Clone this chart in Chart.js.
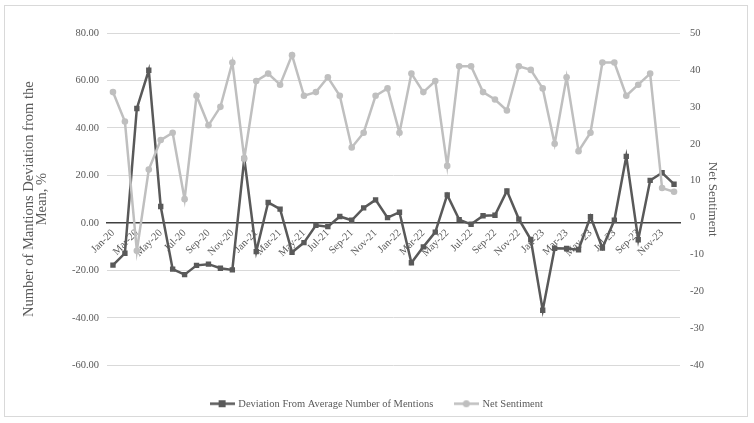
<!DOCTYPE html>
<html lang="en">
<head>
  <meta charset="UTF-8" />
  <title>Mentions Deviation and Net Sentiment</title>
  <script src="https://cdn.jsdelivr.net/npm/chart.js"></script>
  <style>
    body { margin: 0; background: #fff; }
    #wrap { position: relative; width: 754px; height: 423px; }
    #frame { position: absolute; left: 4px; top: 5px; width: 744px; height: 412px; border: 1px solid #d9d9d9; box-sizing: border-box; }
    #chart { position: absolute; left: 0; top: 0; }
  </style>
</head>
<body>
  <div id="wrap">
    <div id="frame"></div>
    <canvas id="chart" width="754" height="423"></canvas>
  </div>

<script>
  // --- Data ---
  const months = [
    "Jan-20", "Feb-20", "Mar-20", "Apr-20", "May-20", "Jun-20", "Jul-20", "Aug-20", "Sep-20", "Oct-20", "Nov-20", "Dec-20",
    "Jan-21", "Feb-21", "Mar-21", "Apr-21", "May-21", "Jun-21", "Jul-21", "Aug-21", "Sep-21", "Oct-21", "Nov-21", "Dec-21",
    "Jan-22", "Feb-22", "Mar-22", "Apr-22", "May-22", "Jun-22", "Jul-22", "Aug-22", "Sep-22", "Oct-22", "Nov-22", "Dec-22",
    "Jan-23", "Feb-23", "Mar-23", "Apr-23", "May-23", "Jun-23", "Jul-23", "Aug-23", "Sep-23", "Oct-23", "Nov-23", "Dec-23"
  ];

  // Deviation from average number of mentions, % (left axis)
  const deviation = [
    -17.8, -12.8, 48.2, 64.3, 6.9, -19.5, -21.8, -17.9, -17.4, -19.1, -19.8, 27.1,
    -12.1, 8.6, 5.8, -12.4, -8.3, -1.0, -1.6, 2.7, 1.1, 6.3, 9.7, 2.2,
    4.5, -16.8, -10.1, -3.9, 11.8, 1.4, -0.6, 3.0, 3.2, 13.5, 1.6, -7.0,
    -36.8, -10.7, -10.8, -11.3, 2.6, -10.6, 1.1, 28.0, -7.1, 17.9, 21.1, 16.3
  ];

  // Net sentiment (right axis)
  const sentiment = [
    34, 26, -9, 13, 21, 23, 5, 33, 25, 30, 42, 16,
    37, 39, 36, 44, 33, 34, 38, 33, 19, 23, 33, 35,
    23, 39, 34, 37, 14, 41, 41, 34, 32, 29, 41, 40,
    35, 20, 38, 18, 23, 42, 42, 33, 36, 39, 8, 7
  ];

  const seriesNames = ["Deviation From Average Number of Mentions", "Net Sentiment"];
  const leftTitle = ["Number of Mantions Deviation from the", "Mean, %"];
  const rightTitle = "Net Sentiment";

  // --- Styling ---
  const DARK = "#595959";
  const LIGHT = "#bfbfbf";
  const TEXT = "#595959";
  const GRID = "#d9d9d9";
  const FONT = "'Liberation Serif', 'Times New Roman', serif";

  // legend swatch: short line with the marker in the middle
  function legendSwatch(color, shape) {
    const c = document.createElement("canvas");
    c.width = 25; c.height = 9;
    const g = c.getContext("2d");
    g.strokeStyle = color;
    g.lineWidth = 2.5;
    g.beginPath(); g.moveTo(0, 4.5); g.lineTo(25, 4.5); g.stroke();
    g.fillStyle = color;
    if (shape === "rect") {
      g.fillRect(9, 1, 7, 7);
    } else {
      g.beginPath(); g.arc(12.5, 4.5, 3.5, 0, Math.PI * 2); g.fill();
    }
    return c;
  }
  const swatches = [legendSwatch(DARK, "rect"), legendSwatch(LIGHT, "circle")];

  const ctx = document.getElementById("chart").getContext("2d");

  new Chart(ctx, {
    type: "line",
    data: {
      labels: months,
      datasets: [
        {
          label: seriesNames[0],
          data: deviation,
          yAxisID: "y",
          borderColor: DARK,
          backgroundColor: DARK,
          borderWidth: 2.5,
          pointStyle: "rect",
          pointRadius: 3.8,
          pointBorderWidth: 0,
          tension: 0,
          order: 2
        },
        {
          label: seriesNames[1],
          data: sentiment,
          yAxisID: "y1",
          borderColor: LIGHT,
          backgroundColor: LIGHT,
          borderWidth: 2.5,
          pointStyle: "circle",
          pointRadius: 3.3,
          pointBorderWidth: 0,
          tension: 0,
          order: 1
        }
      ]
    },
    options: {
      responsive: false,
      animation: false,
      layout: { padding: { top: 33, bottom: 4, left: 0, right: 0 } },
      plugins: {
        tooltip: { enabled: false },
        legend: {
          position: "bottom",
          // empty title only used as spacer above the legend row
          title: { display: true, text: " ", font: { size: 1 }, padding: { top: 10, bottom: 0 } },
          labels: {
            usePointStyle: true,
            pointStyleWidth: 22,
            padding: 22,
            color: TEXT,
            font: { family: FONT, size: 10.5 },
            generateLabels: chart => chart.data.datasets.map((ds, i) => ({
              text: ds.label,
              pointStyle: swatches[i],
              fontColor: TEXT,
              hidden: false,
              lineWidth: 0,
              datasetIndex: i
            }))
          }
        }
      },
      scales: {
        x: {
          type: "category",
          position: { y: 0 },
          offset: true,
          grid: { display: false, drawTicks: false },
          border: { display: true, color: "#404040", width: 1.5 },
          ticks: {
            autoSkip: false,
            maxRotation: 45,
            minRotation: 45,
            padding: 4,
            color: TEXT,
            font: { family: FONT, size: 10.5 },
            callback: function (value, index) {
              return index % 2 === 0 ? this.getLabelForValue(value) : "";
            }
          }
        },
        y: {
          position: "left",
          min: -60,
          max: 80,
          afterFit: s => { s.width = 107; },
          grid: {
            drawTicks: false,
            color: c => (c.tick && c.tick.value === 0 ? "rgba(0,0,0,0)" : GRID),
            lineWidth: 1
          },
          border: { display: false },
          ticks: {
            stepSize: 20,
            padding: 8,
            color: TEXT,
            font: { family: FONT, size: 10.5 },
            callback: v => v.toFixed(2)
          },
          title: {
            display: true,
            text: leftTitle,
            color: TEXT,
            font: { family: FONT, size: 14.5, lineHeight: "13px" },
            padding: { top: 22.5, bottom: 0 }
          }
        },
        y1: {
          position: "right",
          min: -40,
          max: 50,
          afterFit: s => { s.width = 74; },
          grid: { display: false, drawTicks: false },
          border: { display: false },
          ticks: {
            stepSize: 10,
            padding: 10,
            color: TEXT,
            font: { family: FONT, size: 10.5 },
            callback: v => String(v)
          },
          title: {
            display: true,
            text: rightTitle,
            color: TEXT,
            font: { family: FONT, size: 13, lineHeight: 1.0 },
            padding: { top: 35.5, bottom: 0 }
          }
        }
      }
    }
  });
</script>
</body>
</html>
